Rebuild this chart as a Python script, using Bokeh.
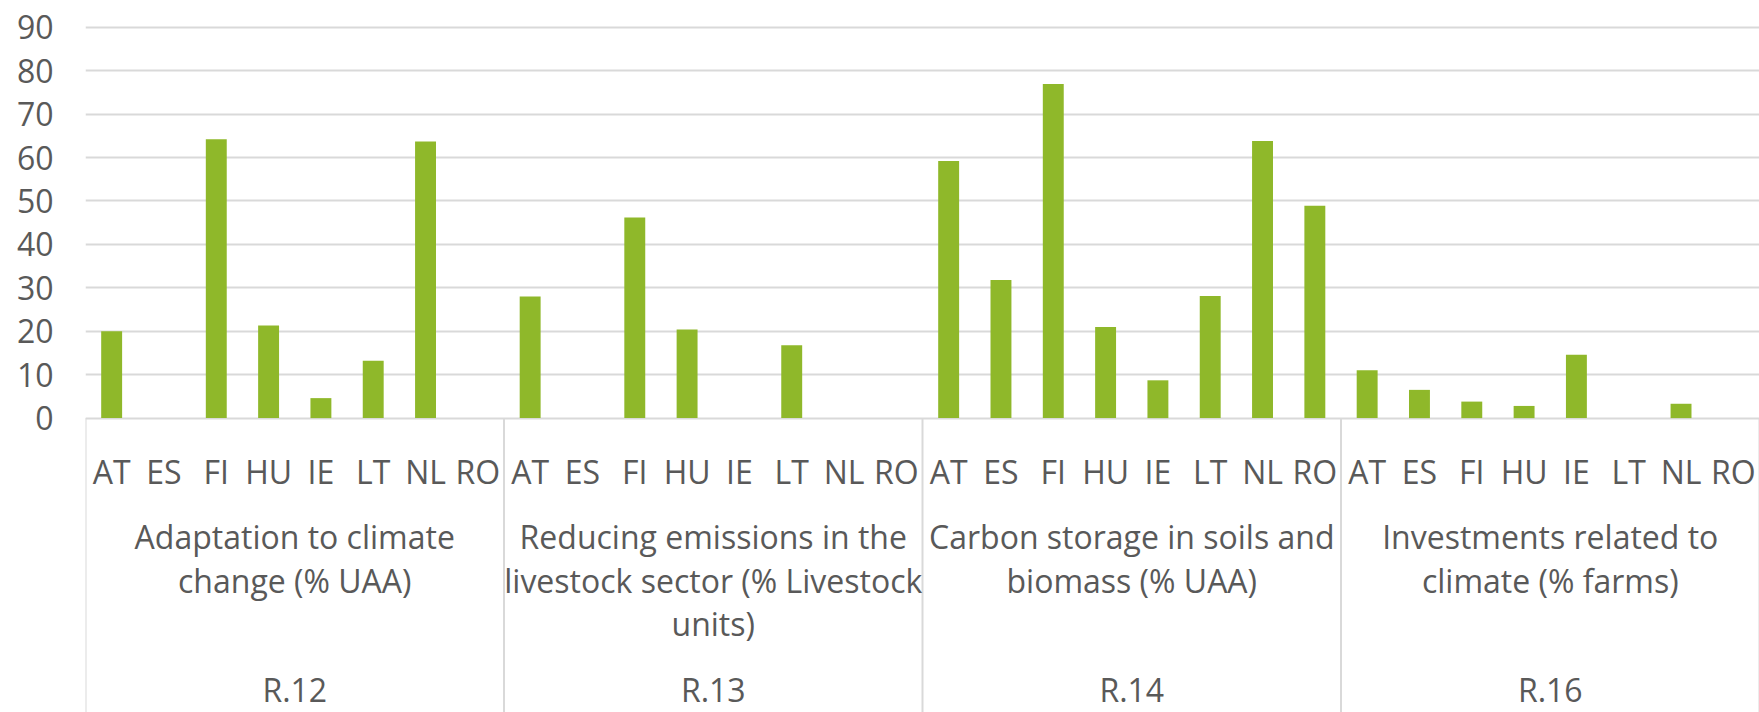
from bokeh.plotting import figure
from bokeh.models import FactorRange, Range1d, FixedTicker, ColumnDataSource
from bokeh.core.properties import value
from bokeh.embed import file_html
from bokeh.resources import INLINE

# ---------------- data ----------------
countries = ["AT", "ES", "FI", "HU", "IE", "LT", "NL", "RO"]
groups = ["R.12", "R.13", "R.14", "R.16"]
group_titles = [
    "Adaptation to climate\nchange (% UAA)",
    "Reducing emissions in the\nlivestock sector (% Livestock\nunits)",
    "Carbon storage in soils and\nbiomass (% UAA)",
    "Investments related to\nclimate (% farms)",
]
r12 = [20.0, 0, 64.2, 21.3, 4.6, 13.2, 63.7, 0]
r13 = [28.0, 0, 46.2, 20.4, 0, 16.8, 0, 0]
r14 = [59.2, 31.8, 76.9, 21.0, 8.7, 28.1, 63.8, 48.9]
r16 = [11.0, 6.5, 3.8, 2.8, 14.6, 0, 3.3, 0]
y_ticks = [0, 10, 20, 30, 40, 50, 60, 70, 80, 90]

series = [r12, r13, r14, r16]

# ---------------- layout constants ----------------
FIG_W, FIG_H = 1759, 712
TOP = 16            # frame top (px from figure top)
ZERO_PX = 417.6     # pixel row of value 0
PPU = 4.343         # pixels per unit
LEFT = 85
TXT_SHIFT = 14      # renderer places the alphabetic baseline this much lower


def ypx(py):
    """convert a pixel row (from figure top) into a data value"""
    return (ZERO_PX - py) / PPU


def ytxt(py):
    return ypx(py - TXT_SHIFT)


TEXT = "#595959"
GRID = "#d9d9d9"
BAR = "#8FB82A"
FONT = "Open Sans"
FSIZE = "32px"

factors = [(g, c) for g in groups for c in countries]
tops = [v for s in series for v in s]

x_range = FactorRange(*factors, factor_padding=0, group_padding=0, range_padding=0)
y_range = Range1d(ypx(FIG_H), ypx(TOP))

p = figure(width=FIG_W, height=FIG_H, x_range=x_range, y_range=y_range,
           output_backend="svg", toolbar_location=None, x_axis_location=None,
           min_border_left=LEFT, min_border_right=0, min_border_top=TOP,
           min_border_bottom=0)
p.outline_line_color = None
p.background_fill_color = "white"
p.border_fill_color = "white"
p.xgrid.visible = False

ax = p.yaxis[0]
ax.ticker = FixedTicker(ticks=y_ticks)
ax.axis_line_color = None
ax.major_tick_line_color = None
ax.minor_tick_line_color = None
ax.major_tick_out = 0
ax.major_tick_in = 0
ax.major_label_standoff = 32
ax.major_label_text_font = FONT
ax.major_label_text_font_size = FSIZE
ax.major_label_text_color = TEXT

p.ygrid.grid_line_color = GRID
p.ygrid.grid_line_width = 2

# bars
src = ColumnDataSource(dict(x=factors, top=tops))
p.vbar(x="x", top="top", width=0.4, bottom=0, source=src,
       fill_color=BAR, line_color=None)

# group separators (from the zero line down to the bottom)
sep_x = [(g, countries[0], -0.5) for g in groups] + [(groups[-1], countries[-1], 0.5)]
p.segment(x0=sep_x, x1=sep_x, y0=[0] * len(sep_x), y1=[ypx(FIG_H)] * len(sep_x),
          line_color=GRID, line_width=2)

# country labels
p.text(x=factors, y=[ytxt(485)] * len(factors), text=[c for g, c in factors],
       text_font=value(FONT), text_font_size=value(FSIZE), text_color=TEXT,
       text_align="center", text_baseline="alphabetic")

# group titles and group codes
mid = countries[len(countries) // 2]
tx, ty, tt = [], [], []
for g, title in zip(groups, group_titles):
    for i, line in enumerate(title.split("\n")):
        tx.append((g, mid, -0.5))
        ty.append(ytxt(550 + 43.5 * i))
        tt.append(line)
    tx.append((g, mid, -0.5))
    ty.append(ytxt(703))
    tt.append(g)
p.text(x=tx, y=ty, text=tt, text_font=value(FONT), text_font_size=value(FSIZE),
       text_color=TEXT, text_align="center", text_baseline="alphabetic")

open("out.html", "w").write(file_html(p, INLINE))
